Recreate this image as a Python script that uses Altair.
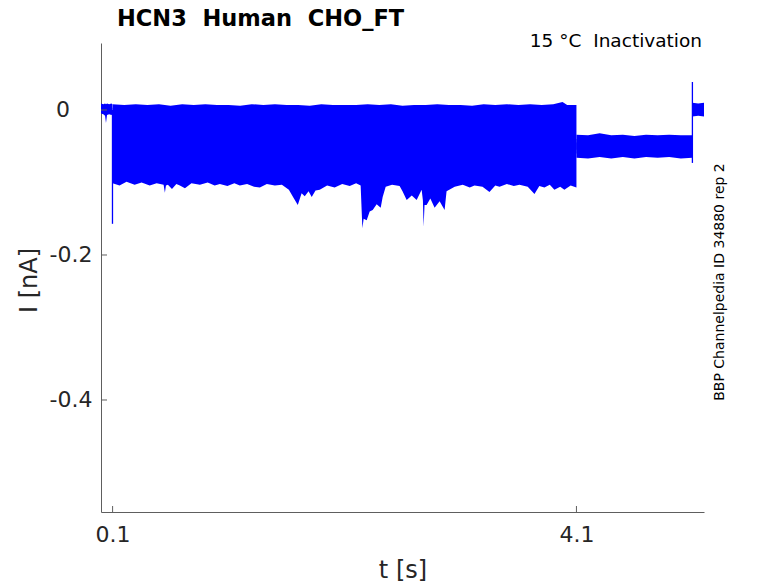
import altair as alt
import pandas as pd

# ---- data (t in s, I in nA) ----
# holding segment before the step
pre_t  = [0.000, 0.020, 0.035, 0.043, 0.052, 0.070, 0.090, 0.098]
pre_hi = [0.009, 0.008, 0.009, 0.008, 0.009, 0.008, 0.009, 0.008]
pre_lo = [-0.005, -0.006, -0.008, -0.018, -0.007, -0.006, -0.007, -0.006]

# main test pulse: upper envelope of all sweeps (t, I)
main_top_pts = [
    (0.10, 0.008), (0.20, 0.007), (0.30, 0.008), (0.40, 0.007), (0.50, 0.008),
    (0.60, 0.006), (0.70, 0.008), (0.80, 0.007), (0.90, 0.008), (1.00, 0.007),
    (1.10, 0.007), (1.20, 0.006), (1.30, 0.008), (1.40, 0.007), (1.50, 0.008),
    (1.60, 0.007), (1.70, 0.007), (1.80, 0.006), (1.90, 0.008), (2.00, 0.007),
    (2.10, 0.007), (2.20, 0.007), (2.30, 0.008), (2.40, 0.007), (2.50, 0.008),
    (2.60, 0.006), (2.70, 0.007), (2.80, 0.007), (2.90, 0.008), (3.00, 0.007),
    (3.10, 0.007), (3.20, 0.006), (3.30, 0.008), (3.40, 0.007), (3.50, 0.008),
    (3.60, 0.007), (3.70, 0.008), (3.80, 0.007), (3.90, 0.008), (3.98, 0.011),
    (4.02, 0.007), (4.10, 0.007),
]

# main test pulse: lower envelope of all sweeps (t, I)
main_bot_pts = [
    (0.100, -0.101), (0.160, -0.104), (0.220, -0.099), (0.290, -0.103), (0.350, -0.100),
    (0.420, -0.104), (0.480, -0.101), (0.540, -0.103), (0.551, -0.114), (0.560, -0.104),
    (0.577, -0.103), (0.612, -0.109), (0.650, -0.102), (0.680, -0.104), (0.724, -0.108),
    (0.780, -0.101), (0.853, -0.103), (0.920, -0.100), (0.980, -0.104), (1.025, -0.102),
    (1.090, -0.105), (1.150, -0.101), (1.197, -0.104), (1.260, -0.102), (1.320, -0.106),
    (1.370, -0.107), (1.430, -0.102), (1.499, -0.104), (1.560, -0.103), (1.620, -0.110),
    (1.660, -0.121), (1.697, -0.131), (1.730, -0.115), (1.757, -0.119), (1.790, -0.112),
    (1.817, -0.120), (1.850, -0.111), (1.886, -0.110), (1.950, -0.104), (2.015, -0.107),
    (2.080, -0.102), (2.145, -0.105), (2.200, -0.101), (2.239, -0.104), (2.254, -0.163),
    (2.265, -0.150), (2.291, -0.152), (2.317, -0.140), (2.343, -0.138), (2.377, -0.130),
    (2.412, -0.135), (2.429, -0.120), (2.455, -0.106), (2.510, -0.103), (2.575, -0.105),
    (2.600, -0.112), (2.636, -0.124), (2.680, -0.118), (2.722, -0.124), (2.765, -0.110),
    (2.776, -0.125), (2.782, -0.161), (2.790, -0.131), (2.808, -0.131), (2.840, -0.122),
    (2.877, -0.135), (2.920, -0.126), (2.963, -0.138), (2.980, -0.112), (3.050, -0.106),
    (3.120, -0.103), (3.180, -0.107), (3.221, -0.104), (3.290, -0.106), (3.350, -0.113),
    (3.400, -0.104), (3.437, -0.106), (3.500, -0.102), (3.560, -0.105), (3.609, -0.103),
    (3.680, -0.106), (3.738, -0.116), (3.780, -0.105), (3.824, -0.107), (3.870, -0.103),
    (3.910, -0.110), (3.960, -0.106), (3.996, -0.110), (4.050, -0.104), (4.100, -0.107),
]

# tail after the test pulse
tail_t  = [4.10, 4.20, 4.30, 4.40, 4.50, 4.60, 4.70, 4.80, 4.90, 5.00, 5.10]
tail_hi = [-0.034, -0.035, -0.032, -0.035, -0.034, -0.036, -0.034, -0.035, -0.034, -0.035, -0.035]
tail_lo = [-0.066, -0.067, -0.065, -0.067, -0.065, -0.067, -0.065, -0.066, -0.065, -0.067, -0.066]

# final segment
post_t  = [5.100, 5.150, 5.200]
post_hi = [0.010, 0.009, 0.010]
post_lo = [-0.009, -0.008, -0.009]

# capacitive spikes
spike_t   = [0.099, 5.100]
spike_top = [0.000, 0.0386]
spike_bot = [-0.157, -0.073]

x_ticks = [0.1, 4.1]
y_ticks = [0.0, -0.2, -0.4]
zero_label = ["0"]

TITLE = "HCN3\u00a0\u00a0Human\u00a0\u00a0CHO_FT"
COND = "15 \u00b0C\u00a0\u00a0Inactivation"
SIDE = "BBP Channelpedia ID 34880 rep 2"

# ---- build tables ----
rows = []
def add(seg, ts, vs, base):
    for t, v in zip(ts, vs):
        rows.append({"seg": seg, "t": t, "v": v, "base": base})

add("pre_hi", pre_t, pre_hi, -0.003)
add("pre_lo", pre_t, pre_lo, 0.003)
add("main_hi", [p[0] for p in main_top_pts], [p[1] for p in main_top_pts], -0.06)
add("main_lo", [p[0] for p in main_bot_pts], [p[1] for p in main_bot_pts], -0.04)
add("tail_hi", tail_t, tail_hi, -0.055)
add("tail_lo", tail_t, tail_lo, -0.045)
add("post_hi", post_t, post_hi, -0.003)
add("post_lo", post_t, post_lo, 0.003)
band = pd.DataFrame(rows)

spikes = pd.DataFrame({"t": spike_t, "v": spike_top, "v2": spike_bot})
xt = pd.DataFrame({"t": x_ticks})
yt = pd.DataFrame({"v": y_ticks})
zl = pd.DataFrame({"v": [0.0], "s": zero_label})

FONT = "DejaVu Sans"
AX = "#262626"
LINE = "#5e5e5e"
BLUE = "#0000ff"

xscale = alt.Scale(domain=[0, 5.2], nice=False, zero=False)
yscale = alt.Scale(domain=[-0.5545, 0.0924], nice=False, zero=False)

xaxis = alt.Axis(values=x_ticks, format=".1f", grid=False, ticks=False,
                 labelFont=FONT, labelFontSize=22, labelColor=AX, labelPadding=12,
                 labelFlush=False, labelOverlap=False,
                 domainColor=LINE, domainWidth=1,
                 title="t [s]", titleFont=FONT, titleFontSize=24, titleFontWeight="normal",
                 titleColor=AX, titleX=301.5, titleY=65, titleBaseline="alphabetic",
                 titleAlign="center")
# the "0" label sits decimal-aligned (drawn by its own text layer below)
yaxis = alt.Axis(values=y_ticks,
                 labelExpr="datum.value == 0 ? '' : '-' + format(-datum.value, '.1f')",
                 grid=False, ticks=False,
                 labelFont=FONT, labelFontSize=22, labelColor=AX, labelPadding=9,
                 labelOverlap=False,
                 domainColor=LINE, domainWidth=1,
                 title="I [nA]", titleFont=FONT, titleFontSize=24, titleFontWeight="normal",
                 titleColor=AX, titleX=-65, titleY=237, titleAngle=270,
                 titleBaseline="alphabetic", titleAlign="center")

X = alt.X("t:Q", scale=xscale, axis=xaxis)
Y = alt.Y("v:Q", scale=yscale, axis=yaxis)

area = alt.Chart(band).mark_area(color=BLUE, opacity=1, interpolate="linear").encode(
    x=X, y=Y, y2="base:Q", detail="seg:N")

spk = alt.Chart(spikes).mark_rule(color=BLUE, strokeWidth=1.3).encode(
    x=X, y=Y, y2="v2:Q")

xtick = alt.Chart(xt).mark_rule(color=LINE, strokeWidth=1).encode(
    x=X, y=alt.value(469), y2=alt.value(463))
ytick = alt.Chart(yt).mark_rule(color=LINE, strokeWidth=1).encode(
    y=Y, x=alt.value(0), x2=alt.value(6))

zero_txt = alt.Chart(zl).mark_text(
    font=FONT, fontSize=22, color=AX, align="right", baseline="middle").encode(
    text="s:N", y=Y, x=alt.value(-31))

title = alt.Chart(pd.DataFrame({"s": [TITLE]})).mark_text(
    font=FONT, fontSize=22.5, fontWeight="bold", color="#000000",
    align="left", baseline="alphabetic").encode(
    text="s:N", x=alt.value(16), y=alt.value(-17))

cond = alt.Chart(pd.DataFrame({"s": [COND]})).mark_text(
    font=FONT, fontSize=18.5, color="#000000",
    align="right", baseline="alphabetic").encode(
    text="s:N", x=alt.value(601), y=alt.value(4))

side = alt.Chart(pd.DataFrame({"s": [SIDE]})).mark_text(
    font=FONT, fontSize=14, color="#000000", angle=270,
    align="center", baseline="middle").encode(
    text="s:N", x=alt.value(619), y=alt.value(239))

chart = alt.layer(area, spk, xtick, ytick, zero_txt, title, cond, side).properties(
    width=603, height=469,
    autosize=alt.AutoSizeParams(type="none"),
    padding={"left": 93, "top": 35, "right": 66, "bottom": 70},
    background="white",
).configure_view(stroke=None)

chart.save("out.html", embed_options={"renderer": "svg", "actions": False})
